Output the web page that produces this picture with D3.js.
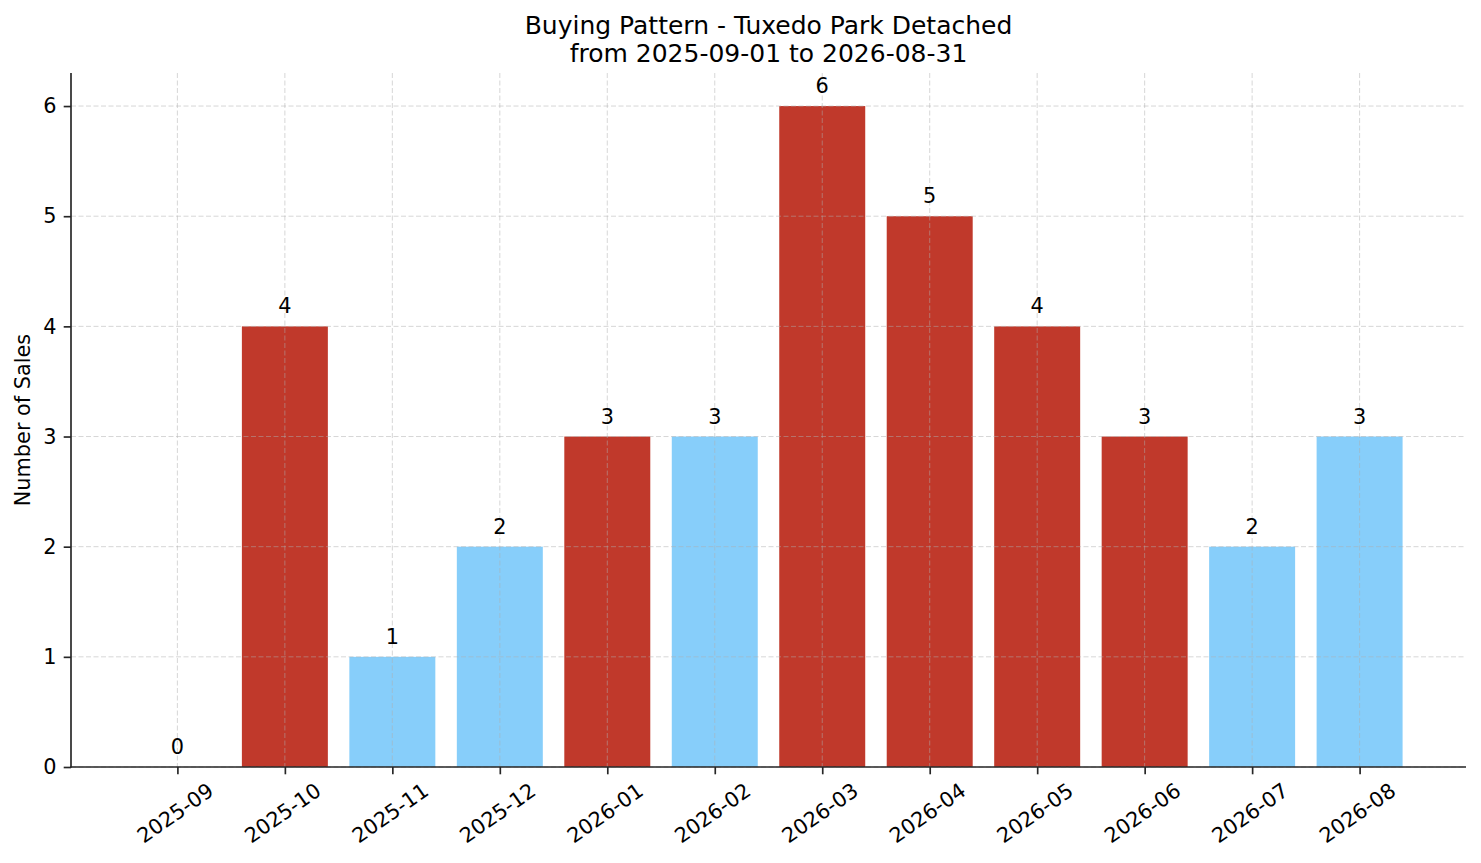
<html>
  <head>
    <script src="https://cdn.jsdelivr.net/npm/d3@7"></script>
    <style type="text/css">
      body { margin: 0; padding: 0; background: #fff; }
      svg text { font-family: "DejaVu Sans", sans-serif; fill: #000; }
    </style>
  </head>
  <body>
    <div id="chart"></div>
    <script type="text/javascript">
      // data
      var months = ["2025-09", "2025-10", "2025-11", "2025-12", "2026-01", "2026-02",
                    "2026-03", "2026-04", "2026-05", "2026-06", "2026-07", "2026-08"];
      var sales = [0, 4, 1, 2, 3, 3, 6, 5, 4, 3, 2, 3];
      var barColors = ["#87cefa", "#c0392b", "#87cefa", "#87cefa", "#c0392b", "#87cefa",
                       "#c0392b", "#c0392b", "#c0392b", "#c0392b", "#87cefa", "#87cefa"];
      var yTicks = [0, 1, 2, 3, 4, 5, 6];
      var titleLines = ["Buying Pattern - Tuxedo Park Detached", "from 2025-09-01 to 2026-08-31"];
      var yLabel = "Number of Sales";

      var W = 1481, H = 863;
      var plotL = 71, plotR = 1466, plotT = 73, plotB = 767;
      var fs = 20.83;
      var tickLen = 7.3, tickPad = 7.3;
      var axisColor = "#262626";

      var svg = d3.select("#chart").append("svg")
          .attr("width", W).attr("height", H);

      var x = d3.scaleLinear().domain([-0.99, months.length - 1 + 0.99]).range([plotL, plotR]);
      var y = d3.scaleLinear().domain([0, 6.3]).range([plotB, plotT]);
      var barW = x(0.8) - x(0);

      // bars
      svg.append("g").selectAll("rect").data(sales).enter().append("rect")
          .attr("x", function(d, i) { return x(i) - barW / 2; })
          .attr("y", function(d) { return y(d); })
          .attr("width", barW)
          .attr("height", function(d) { return y(0) - y(d); })
          .attr("fill", function(d, i) { return barColors[i]; });

      // grid on top of bars
      var grid = svg.append("g")
          .attr("stroke", "#b0b0b0")
          .attr("stroke-opacity", 0.5)
          .attr("stroke-width", 1)
          .attr("stroke-dasharray", "5,2.5");
      grid.selectAll("line.v").data(months).enter().append("line")
          .attr("class", "v")
          .attr("x1", function(d, i) { return x(i); })
          .attr("x2", function(d, i) { return x(i); })
          .attr("y1", plotT).attr("y2", plotB);
      grid.selectAll("line.h").data(yTicks).enter().append("line")
          .attr("class", "h")
          .attr("x1", plotL).attr("x2", plotR)
          .attr("y1", function(d) { return y(d); })
          .attr("y2", function(d) { return y(d); });

      // value labels
      svg.append("g").selectAll("text").data(sales).enter().append("text")
          .attr("x", function(d, i) { return x(i); })
          .attr("y", function(d) { return y(d) - 13; })
          .attr("text-anchor", "middle")
          .style("font-size", fs + "px")
          .text(function(d) { return d; });

      // y axis
      var yAxis = svg.append("g")
          .attr("transform", "translate(" + plotL + ",0)")
          .call(d3.axisLeft(y).tickValues(yTicks).tickFormat(d3.format("d"))
                .tickSize(tickLen).tickPadding(tickPad));
      yAxis.select(".domain").remove();
      yAxis.selectAll(".tick line").attr("stroke", axisColor).attr("stroke-width", 1.67);
      yAxis.selectAll(".tick text")
          .style("font-size", fs + "px")
          .style("font-family", "DejaVu Sans")
          .attr("fill", "#000");

      // x axis
      var xAxis = svg.append("g")
          .attr("transform", "translate(0," + plotB + ")")
          .call(d3.axisBottom(x).tickValues(d3.range(months.length))
                .tickFormat(function(i) { return months[i]; })
                .tickSize(tickLen).tickPadding(tickPad));
      xAxis.select(".domain").remove();
      xAxis.selectAll(".tick line").attr("stroke", axisColor).attr("stroke-width", 1.67);
      var ang = 35 * Math.PI / 180;
      xAxis.selectAll(".tick text")
          .style("font-size", fs + "px")
          .style("font-family", "DejaVu Sans")
          .attr("fill", "#000")
          .attr("text-anchor", "middle")
          .attr("dy", null)
          .attr("dominant-baseline", "central")
          .each(function() {
            var t = d3.select(this);
            var w = this.getComputedTextLength();
            var h = fs * 1.17;
            var bh = w * Math.sin(ang) + h * Math.cos(ang);
            var cy = tickLen + tickPad + bh / 2 - 3.3;
            t.attr("y", 0).attr("x", 0)
             .attr("transform", "translate(-2.5," + cy + ") rotate(-35)");
          });

      // spines
      svg.append("line")
          .attr("x1", plotL).attr("x2", plotL).attr("y1", plotT).attr("y2", plotB + 0.8)
          .attr("stroke", axisColor).attr("stroke-width", 1.67);
      svg.append("line")
          .attr("x1", plotL - 0.8).attr("x2", plotR).attr("y1", plotB).attr("y2", plotB)
          .attr("stroke", axisColor).attr("stroke-width", 1.67);

      // y label
      svg.append("text")
          .attr("transform", "translate(22.5," + ((plotT + plotB) / 2) + ") rotate(-90)")
          .attr("text-anchor", "middle")
          .attr("dominant-baseline", "central")
          .style("font-size", fs + "px")
          .text(yLabel);

      // title
      svg.append("g").selectAll("text").data(titleLines).enter().append("text")
          .attr("x", (plotL + plotR) / 2)
          .attr("y", function(d, i) { return 34.3 + i * 28; })
          .attr("text-anchor", "middle")
          .style("font-size", "25px")
          .text(function(d) { return d; });
    </script>
  </body>
</html>
